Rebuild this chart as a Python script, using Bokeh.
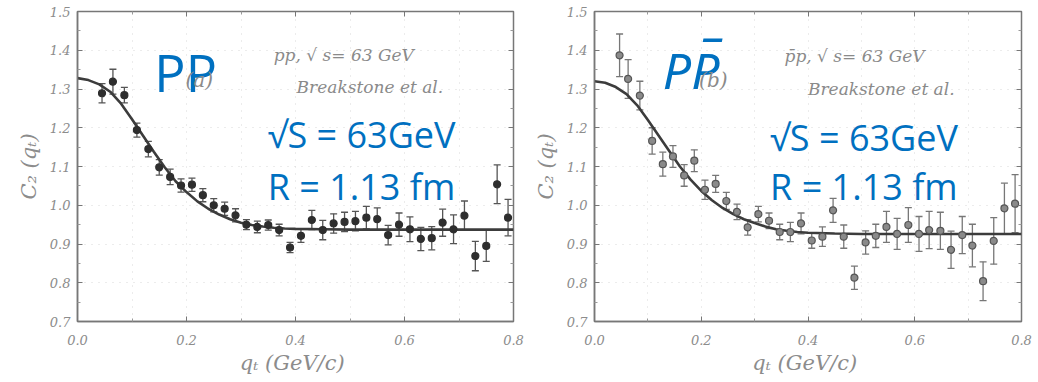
from bokeh.plotting import figure
from bokeh.models import (ColumnDataSource, Whisker, TeeHead, Label, LinearAxis,
                          FixedTicker, Range1d, NumeralTickFormatter)
from bokeh.layouts import row
from bokeh.embed import file_html
from bokeh.resources import INLINE

# ---------------- data ----------------
# panel (a): pp, sqrt(s) = 63 GeV
q_a = [0.045, 0.065, 0.086, 0.109, 0.130, 0.150, 0.170, 0.190, 0.210, 0.230,
       0.250, 0.270, 0.290, 0.310, 0.330, 0.350, 0.370, 0.390, 0.410, 0.430,
       0.450, 0.470, 0.490, 0.510, 0.530, 0.550, 0.570, 0.590, 0.610, 0.630,
       0.650, 0.670, 0.690, 0.710, 0.730, 0.750, 0.770, 0.790]
c2_a = [1.289, 1.319, 1.284, 1.194, 1.145, 1.098, 1.073, 1.051, 1.053, 1.026,
        1.000, 0.991, 0.974, 0.950, 0.944, 0.949, 0.936, 0.891, 0.921, 0.962,
        0.936, 0.953, 0.957, 0.959, 0.968, 0.964, 0.923, 0.950, 0.938, 0.913,
        0.915, 0.955, 0.938, 0.973, 0.869, 0.895, 1.054, 0.968]
err_a = [0.025, 0.032, 0.020, 0.018, 0.020, 0.020, 0.020, 0.017, 0.017, 0.017,
         0.017, 0.017, 0.017, 0.013, 0.015, 0.013, 0.015, 0.013, 0.017, 0.025,
         0.025, 0.025, 0.025, 0.025, 0.029, 0.029, 0.025, 0.030, 0.032, 0.030,
         0.030, 0.035, 0.037, 0.038, 0.038, 0.040, 0.050, 0.047]
fit_q_a = [0.00, 0.02, 0.04, 0.06, 0.08, 0.10, 0.12, 0.14, 0.16, 0.18, 0.20,
           0.22, 0.24, 0.26, 0.28, 0.30, 0.32, 0.34, 0.36, 0.38, 0.40, 0.45,
           0.50, 0.80]
fit_c2_a = [1.328, 1.323, 1.312, 1.293, 1.262, 1.222, 1.180, 1.138, 1.098, 1.062,
            1.034, 1.010, 0.991, 0.976, 0.964, 0.955, 0.949, 0.945, 0.942, 0.940,
            0.939, 0.938, 0.937, 0.937]

# panel (b): pbar-p, sqrt(s) = 63 GeV
q_b = [0.047, 0.063, 0.085, 0.108, 0.128, 0.147, 0.168, 0.187, 0.207, 0.227,
       0.247, 0.267, 0.287, 0.307, 0.327, 0.347, 0.367, 0.387, 0.407, 0.427,
       0.447, 0.467, 0.487, 0.508, 0.527, 0.547, 0.567, 0.588, 0.608, 0.627,
       0.648, 0.668, 0.689, 0.708, 0.728, 0.748, 0.768, 0.788]
c2_b = [1.387, 1.326, 1.283, 1.166, 1.106, 1.126, 1.077, 1.115, 1.040, 1.055,
        1.011, 0.983, 0.943, 0.977, 0.960, 0.931, 0.931, 0.953, 0.909, 0.919,
        0.987, 0.919, 0.813, 0.904, 0.921, 0.944, 0.926, 0.949, 0.926, 0.936,
        0.934, 0.885, 0.923, 0.896, 0.804, 0.908, 0.992, 1.004]
err_b = [0.055, 0.050, 0.037, 0.034, 0.031, 0.028, 0.028, 0.028, 0.025, 0.022,
         0.022, 0.020, 0.020, 0.020, 0.020, 0.020, 0.025, 0.027, 0.020, 0.025,
         0.031, 0.030, 0.030, 0.030, 0.030, 0.040, 0.040, 0.045, 0.045, 0.048,
         0.048, 0.048, 0.048, 0.055, 0.050, 0.060, 0.065, 0.075]
fit_q_b = [0.00, 0.02, 0.04, 0.06, 0.08, 0.10, 0.12, 0.14, 0.16, 0.18, 0.20,
           0.22, 0.24, 0.26, 0.28, 0.30, 0.32, 0.34, 0.36, 0.38, 0.40, 0.45,
           0.50, 0.80]
fit_c2_b = [1.320, 1.316, 1.305, 1.287, 1.258, 1.220, 1.180, 1.140, 1.100, 1.066,
            1.037, 1.013, 0.993, 0.977, 0.964, 0.954, 0.945, 0.938, 0.934, 0.931,
            0.929, 0.927, 0.926, 0.926]

x_ticks = [0.0, 0.2, 0.4, 0.6, 0.8]
x_minor = [0.1, 0.3, 0.5, 0.7]
y_ticks = [0.7, 0.8, 0.9, 1.0, 1.1, 1.2, 1.3, 1.4, 1.5]
y_minor = [0.75, 0.85, 0.95, 1.05, 1.15, 1.25, 1.35, 1.45]

BLUE = "#0070C0"
GRAY_TXT = "#8a8a8a"
SERIF = "DejaVu Serif"


def make_panel(q, c2, err, fq, fc2, width, bl, br, bt, bb, pt_fill, pt_line, wh_color):
    p = figure(width=width, height=380, x_range=Range1d(0.0, 0.8), y_range=Range1d(0.7, 1.5),
               output_backend="svg", toolbar_location=None,
               min_border_left=bl, min_border_right=br, min_border_top=bt, min_border_bottom=bb)
    p.background_fill_color = "white"
    p.border_fill_color = "white"
    p.outline_line_color = "#777777"
    p.outline_line_width = 1.5

    # faint dotted grid
    p.xgrid.ticker = FixedTicker(ticks=x_minor + x_ticks)
    p.ygrid.ticker = FixedTicker(ticks=y_ticks)
    for g in (p.xgrid, p.ygrid):
        g.grid_line_color = "#d8d8d8"
        g.grid_line_dash = "1 6"
        g.grid_line_width = 1

    for ax in p.xaxis:
        ax.ticker = FixedTicker(ticks=x_ticks, minor_ticks=x_minor)
        ax.axis_label = "qₜ  (GeV/c)"
        ax.major_label_standoff = 13
        ax.axis_label_standoff = 3
    for ax in p.yaxis:
        ax.ticker = FixedTicker(ticks=y_ticks, minor_ticks=y_minor)
        ax.axis_label = "C₂ (qₜ)"
        ax.major_label_standoff = 7
        ax.axis_label_standoff = 6
    for ax in list(p.xaxis) + list(p.yaxis):
        ax.formatter = NumeralTickFormatter(format="0.0")
        ax.axis_line_color = "#777777"
        ax.axis_line_width = 1.5
        ax.major_tick_in = 5
        ax.major_tick_out = 0
        ax.minor_tick_in = 3
        ax.minor_tick_out = 0
        ax.major_tick_line_color = "#777777"
        ax.minor_tick_line_color = "#999999"
        ax.major_label_text_font = SERIF
        ax.major_label_text_font_style = "italic"
        ax.major_label_text_font_size = "13px"
        ax.major_label_text_color = "#8c8c8c"
        ax.axis_label_text_font = SERIF
        ax.axis_label_text_font_style = "italic"
        ax.axis_label_text_font_size = "21px"
        ax.axis_label_text_color = "#8c8c8c"

    # mirrored inner ticks on top and right
    top = LinearAxis(ticker=FixedTicker(ticks=x_ticks, minor_ticks=x_minor))
    right = LinearAxis(ticker=FixedTicker(ticks=y_ticks, minor_ticks=y_minor))
    for ax in (top, right):
        ax.major_label_text_font_size = "0px"
        ax.major_label_standoff = 0
        ax.axis_line_color = None
        ax.major_tick_in = 5
        ax.major_tick_out = 0
        ax.minor_tick_in = 3
        ax.minor_tick_out = 0
        ax.major_tick_line_color = "#777777"
        ax.minor_tick_line_color = "#999999"
    p.add_layout(top, "above")
    p.add_layout(right, "right")

    # fit curve
    p.line(fq, fc2, line_color="#3c3c3c", line_width=2.6)

    src = ColumnDataSource(dict(q=q, c2=c2,
                                lo=[c - e for c, e in zip(c2, err)],
                                hi=[c + e for c, e in zip(c2, err)]))
    wh = Whisker(base="q", lower="lo", upper="hi", source=src,
                 line_color=wh_color, line_width=1.3,
                 upper_head=TeeHead(size=7, line_color=wh_color, line_width=1.3),
                 lower_head=TeeHead(size=7, line_color=wh_color, line_width=1.3))
    p.add_layout(wh)
    p.scatter("q", "c2", source=src, size=7, fill_color=pt_fill, line_color=pt_line, line_width=1.2)
    return p


p1 = make_panel(q_a, c2_a, err_a, fit_q_a, fit_c2_a, 530, 77, 17, 11, 57,
                "#2e2e2e", "#2e2e2e", "#555555")
p2 = make_panel(q_b, c2_b, err_b, fit_q_b, fit_c2_b, 506, 53, 15, 8, 59,
                "#8a8a8a", "#555555", "#777777")


def add_label(p, x, y, text, font, size, color, style="normal", baseline="alphabetic"):
    p.add_layout(Label(x=x, y=y, text=text, text_font=font, text_font_size=size,
                       text_color=color, text_font_style=style, text_baseline=baseline))


# panel (a) annotations
add_label(p1, 0.141, 1.344, "PP", "Open Sans", "52px", BLUE)
add_label(p1, 0.198, 1.323, "(a)", SERIF, "20px", GRAY_TXT, "italic", "middle")
add_label(p1, 0.360, 1.387, "pp,  √ s= 63  GeV", SERIF, "17px", GRAY_TXT, "italic")
add_label(p1, 0.402, 1.305, "Breakstone et al.", SERIF, "17px", GRAY_TXT, "italic")
add_label(p1, 0.349, 1.182, "√S = 63GeV", "Open Sans", "36px", BLUE)
add_label(p1, 0.349, 1.049, "R = 1.13 fm", "Open Sans", "36px", BLUE)

# panel (b) annotations
add_label(p2, 0.128, 1.349, "PP\u0305", "Noto Sans", "50px", BLUE, "italic")
add_label(p2, 0.196, 1.324, "(b)", SERIF, "20px", GRAY_TXT, "italic", "middle")
add_label(p2, 0.356, 1.385, "p\u0304p,  √ s= 63  GeV", SERIF, "17px", GRAY_TXT, "italic")
add_label(p2, 0.400, 1.300, "Breakstone et al.", SERIF, "17px", GRAY_TXT, "italic")
add_label(p2, 0.329, 1.176, "√S = 63GeV", "Open Sans", "36px", BLUE)
add_label(p2, 0.329, 1.048, "R = 1.13 fm", "Open Sans", "36px", BLUE)

layout = row(p1, p2, spacing=0)
open("out.html", "w").write(file_html(layout, INLINE))
